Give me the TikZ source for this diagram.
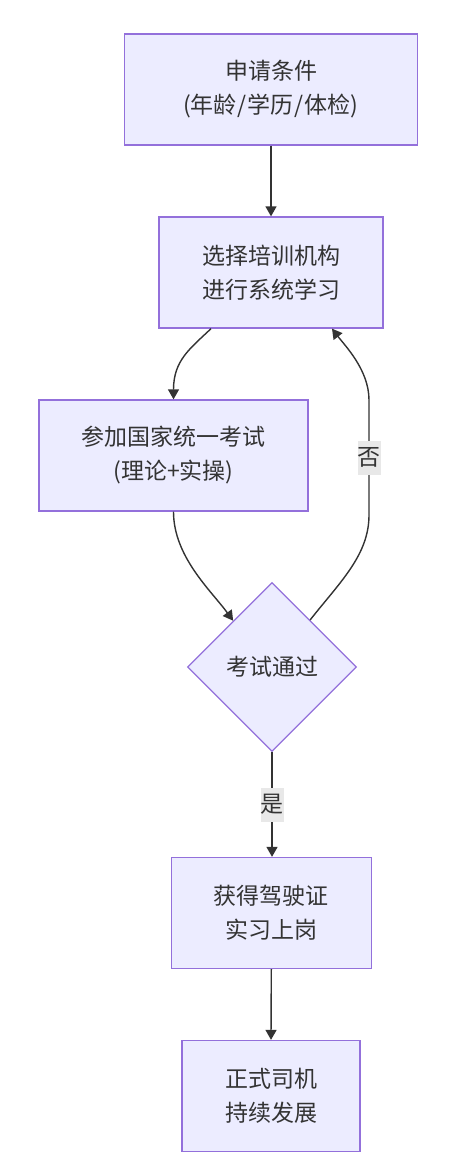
\documentclass[tikz,border=0pt]{standalone}
\usepackage{fontspec}
\newfontfamily\cjk{Noto Sans CJK SC}
\usetikzlibrary{shapes.geometric,arrows.meta}
\definecolor{nodefill}{HTML}{ECECFF}
\definecolor{nodeline}{HTML}{9370DB}
\definecolor{edgecol}{HTML}{333333}
\definecolor{textcol}{HTML}{333333}
\definecolor{labelbg}{HTML}{E8E8E8}
\begin{document}
\begin{tikzpicture}[x=1pt, y=1pt,
                box/.style={draw=nodeline, fill=nodefill, line width=1.3pt, rectangle, minimum height=111pt, inner sep=0pt, align=center, text=textcol, font=\cjk\fontsize{23}{34}\selectfont},
                decision/.style={draw=nodeline, fill=nodefill, line width=1.3pt, diamond, aspect=1, minimum width=169pt, minimum height=169pt, inner sep=0pt, text=textcol, font=\cjk\fontsize{23}{34}\selectfont},
                flow/.style={draw=edgecol, line width=1.4pt, -{Triangle[length=10pt, width=11pt]}},
                tag/.style={fill=labelbg, inner sep=0pt, minimum width=23pt, minimum height=34pt, text=textcol, font=\cjk\fontsize{23}{34}\selectfont}]

                \useasboundingbox (0,0) rectangle (448,-1156);

                \node[box, minimum width=293pt] (apply) at (271,-89.5) {申请条件\\(年龄\kern1pt/\kern1pt学历\kern1pt/\kern1pt体检)};
                \node[box, minimum width=224pt] (train) at (271,-272.5) {选择培训机构\\进行系统学习};
                \node[box, minimum width=269pt] (exam) at (173.5,-455.5) {参加国家统一考试\\(理论+实操)};
                \node[decision] (pass) at (272,-667) {考试通过};
                \node[box, minimum width=200pt] (license) at (271.3,-913) {获得驾驶证\\实习上岗};
                \node[box, minimum width=178pt] (driver) at (271,-1096) {正式司机\\持续发展};

                \draw[flow] (apply.south -| train.north) -- (train.north);
                \draw[flow] ([xshift=-60pt]train.south) .. controls +(-21,-20) and +(0,39) .. (exam.north);
                \draw[flow] (exam.south) .. controls +(0,-45) and +(-22,30) .. (pass.130);
                \draw[flow] (pass.51) .. controls +(30,38) and +(0,-40) .. (369,-515) -- node[tag] {否} (369,-400) .. controls +(0,30) and +(13,-17) .. ([xshift=61pt]train.south);
                \draw[flow] (pass.south) -- node[tag] {是} (pass.south |- license.north);
                \draw[flow] (license.south) -- (driver.north);
            \end{tikzpicture}
\end{document}
